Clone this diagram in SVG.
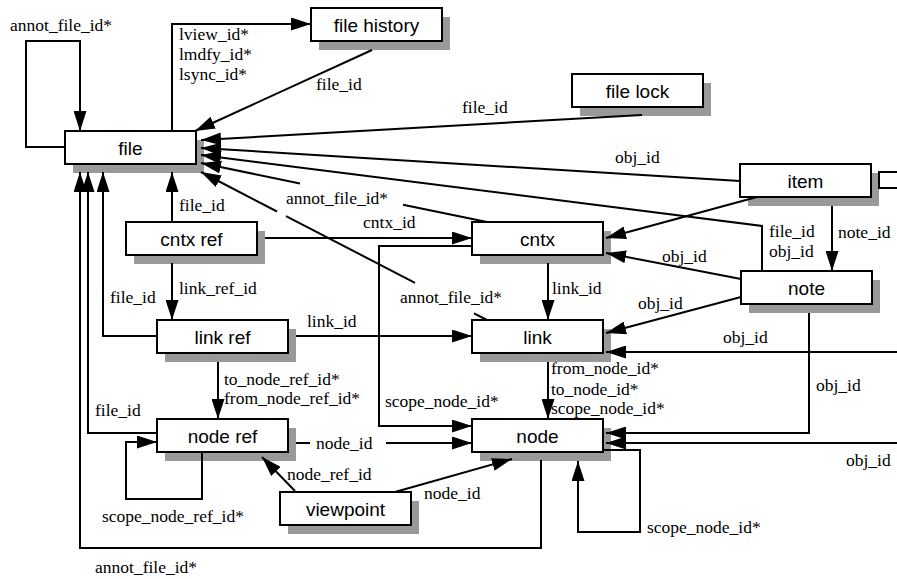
<svg xmlns="http://www.w3.org/2000/svg" width="897" height="579" viewBox="0 0 897 579">
<style>
.sh{fill:#999}
.bx{fill:#fff;stroke:#000;stroke-width:2}
.t{font-family:"Liberation Sans",Arial,sans-serif;font-size:19px;text-anchor:middle;fill:#000}
.e{fill:none;stroke:#000;stroke-width:2}
.a{marker-end:url(#ah)}
.l{font-family:"Liberation Serif","Times New Roman",serif;font-size:17.5px;fill:#000}
</style>
<defs>
<marker id="ah" markerUnits="userSpaceOnUse" markerWidth="20" markerHeight="13" refX="20" refY="6.5" orient="auto">
<path d="M0,0 L20,6.5 L0,13 z" fill="#000"/>
</marker>
</defs>
<rect width="897" height="579" fill="#fff"/>
<g id="nodes">
<g id="file"><rect class="sh" x="73" y="140" width="131" height="33"/><rect class="bx" x="65" y="131" width="131" height="33"/><text class="t" x="130.5" y="154.5">file</text></g>
<g id="file-history"><rect class="sh" x="319" y="17" width="131" height="33"/><rect class="bx" x="311" y="8" width="131" height="33"/><text class="t" x="376.5" y="31.5">file history</text></g>
<g id="file-lock"><rect class="sh" x="580" y="83" width="131" height="33"/><rect class="bx" x="572" y="74" width="131" height="33"/><text class="t" x="637.5" y="97.5">file lock</text></g>
<g id="item"><rect class="sh" x="748" y="173" width="131" height="33"/><rect class="bx" x="740" y="164" width="131" height="33"/><text class="t" x="805.5" y="187.5">item</text></g>
<g id="note"><rect class="sh" x="749" y="280" width="131" height="33"/><rect class="bx" x="741" y="271" width="131" height="33"/><text class="t" x="806.5" y="294.5">note</text></g>
<g id="cntx"><rect class="sh" x="480" y="231" width="131" height="33"/><rect class="bx" x="472" y="222" width="131" height="33"/><text class="t" x="537.5" y="245.5">cntx</text></g>
<g id="link"><rect class="sh" x="480" y="329" width="131" height="33"/><rect class="bx" x="472" y="320" width="131" height="33"/><text class="t" x="537.5" y="343.5">link</text></g>
<g id="node"><rect class="sh" x="480" y="428" width="131" height="33"/><rect class="bx" x="472" y="419" width="131" height="33"/><text class="t" x="537.5" y="442.5">node</text></g>
<g id="cntx-ref"><rect class="sh" x="134" y="231" width="131" height="33"/><rect class="bx" x="126" y="222" width="131" height="33"/><text class="t" x="191.5" y="245.5">cntx ref</text></g>
<g id="link-ref"><rect class="sh" x="165" y="329" width="131" height="33"/><rect class="bx" x="157" y="320" width="131" height="33"/><text class="t" x="222.5" y="343.5">link ref</text></g>
<g id="node-ref"><rect class="sh" x="165" y="428" width="131" height="33"/><rect class="bx" x="157" y="419" width="131" height="33"/><text class="t" x="222.5" y="442.5">node ref</text></g>
<g id="viewpoint"><rect class="sh" x="288" y="501" width="131" height="33"/><rect class="bx" x="280" y="492" width="131" height="33"/><text class="t" x="345.5" y="515.5">viewpoint</text></g>
</g>
<g id="connectors">
<polyline class="e a" points="65,147 26,147 26,41 80,41 80,131"/>
<polyline class="e a" points="172,131 172,24 311,24"/>
<line class="e a" x1="372" y1="50" x2="195" y2="131"/>
<line class="e a" x1="642" y1="115" x2="201" y2="140"/>
<line class="e a" x1="740" y1="181" x2="201" y2="148"/>
<polyline class="e a" points="762,271 762,226 201,155"/>
<line class="e" x1="487" y1="222" x2="403" y2="204.7"/>
<line class="e a" x1="300" y1="183.5" x2="201" y2="163"/>
<line class="e" x1="487" y1="320" x2="474" y2="313.3"/>
<line class="e" x1="415" y1="282.8" x2="286" y2="216.1"/>
<line class="e a" x1="277" y1="211.5" x2="201" y2="172"/>
<polyline class="e a" points="541,460 541,548 80,548 80,172"/>
<polyline class="e a" points="157,433 88,433 88,172"/>
<polyline class="e a" points="157,336 103,336 103,172"/>
<line class="e a" x1="172" y1="222" x2="172" y2="172"/>
<line class="e a" x1="172" y1="263" x2="172" y2="320"/>
<line class="e a" x1="265" y1="238" x2="472" y2="238"/>
<polyline class="e a" points="472,246 379,246 379,426 472,426"/>
<line class="e a" x1="548" y1="263" x2="548" y2="320"/>
<line class="e a" x1="296" y1="336" x2="472" y2="336"/>
<line class="e a" x1="218" y1="362" x2="218" y2="419"/>
<line class="e a" x1="548" y1="362" x2="548" y2="419"/>
<line class="e" x1="296" y1="443" x2="310" y2="443"/>
<line class="e a" x1="386" y1="443" x2="472" y2="443"/>
<polyline class="e a" points="202,452 202,499 126,499 126,442 157,442"/>
<line class="e a" x1="295" y1="491" x2="262" y2="457"/>
<line class="e a" x1="395" y1="492" x2="512" y2="459"/>
<polyline class="e a" points="603,450 640,450 640,532 578,532 578,461"/>
<line class="e a" x1="757" y1="197" x2="606" y2="238"/>
<line class="e a" x1="832" y1="206" x2="832" y2="271"/>
<line class="e a" x1="741" y1="279" x2="606" y2="253"/>
<line class="e a" x1="741" y1="297" x2="606" y2="333"/>
<line class="e a" x1="897" y1="352" x2="606" y2="352"/>
<polyline class="e a" points="809,313 809,433 606,433"/>
<line class="e a" x1="897" y1="443" x2="606" y2="443"/>
<polyline class="e" points="897,172 879,172 879,188 897,188"/>
</g>
<g id="labels">
<text class="l" x="10" y="31">annot_file_id*</text>
<text class="l" x="179" y="39.5">lview_id*</text>
<text class="l" x="179" y="60">lmdfy_id*</text>
<text class="l" x="179" y="80">lsync_id*</text>
<text class="l" x="316" y="90">file_id</text>
<text class="l" x="462" y="113">file_id</text>
<text class="l" x="615" y="163">obj_id</text>
<text class="l" x="769" y="237">file_id</text>
<text class="l" x="769" y="257">obj_id</text>
<text class="l" x="838" y="238">note_id</text>
<text class="l" x="286" y="204">annot_file_id*</text>
<text class="l" x="363" y="228">cntx_id</text>
<text class="l" x="179" y="211">file_id</text>
<text class="l" x="179" y="294">link_ref_id</text>
<text class="l" x="110" y="303">file_id</text>
<text class="l" x="307" y="327">link_id</text>
<text class="l" x="400" y="303">annot_file_id*</text>
<text class="l" x="552" y="294">link_id</text>
<text class="l" x="662" y="262">obj_id</text>
<text class="l" x="638" y="309">obj_id</text>
<text class="l" x="723" y="343">obj_id</text>
<text class="l" x="224" y="385">to_node_ref_id*</text>
<text class="l" x="224" y="404">from_node_ref_id*</text>
<text class="l" x="551" y="374">from_node_id*</text>
<text class="l" x="551" y="395">to_node_id*</text>
<text class="l" x="551" y="414">scope_node_id*</text>
<text class="l" x="816" y="391">obj_id</text>
<text class="l" x="385" y="407">scope_node_id*</text>
<text class="l" x="95" y="416">file_id</text>
<text class="l" x="316" y="449">node_id</text>
<text class="l" x="287" y="480">node_ref_id</text>
<text class="l" x="424" y="499">node_id</text>
<text class="l" x="846" y="466">obj_id</text>
<text class="l" x="102" y="522">scope_node_ref_id*</text>
<text class="l" x="647" y="533">scope_node_id*</text>
<text class="l" x="95" y="573">annot_file_id*</text>
</g>
</svg>
